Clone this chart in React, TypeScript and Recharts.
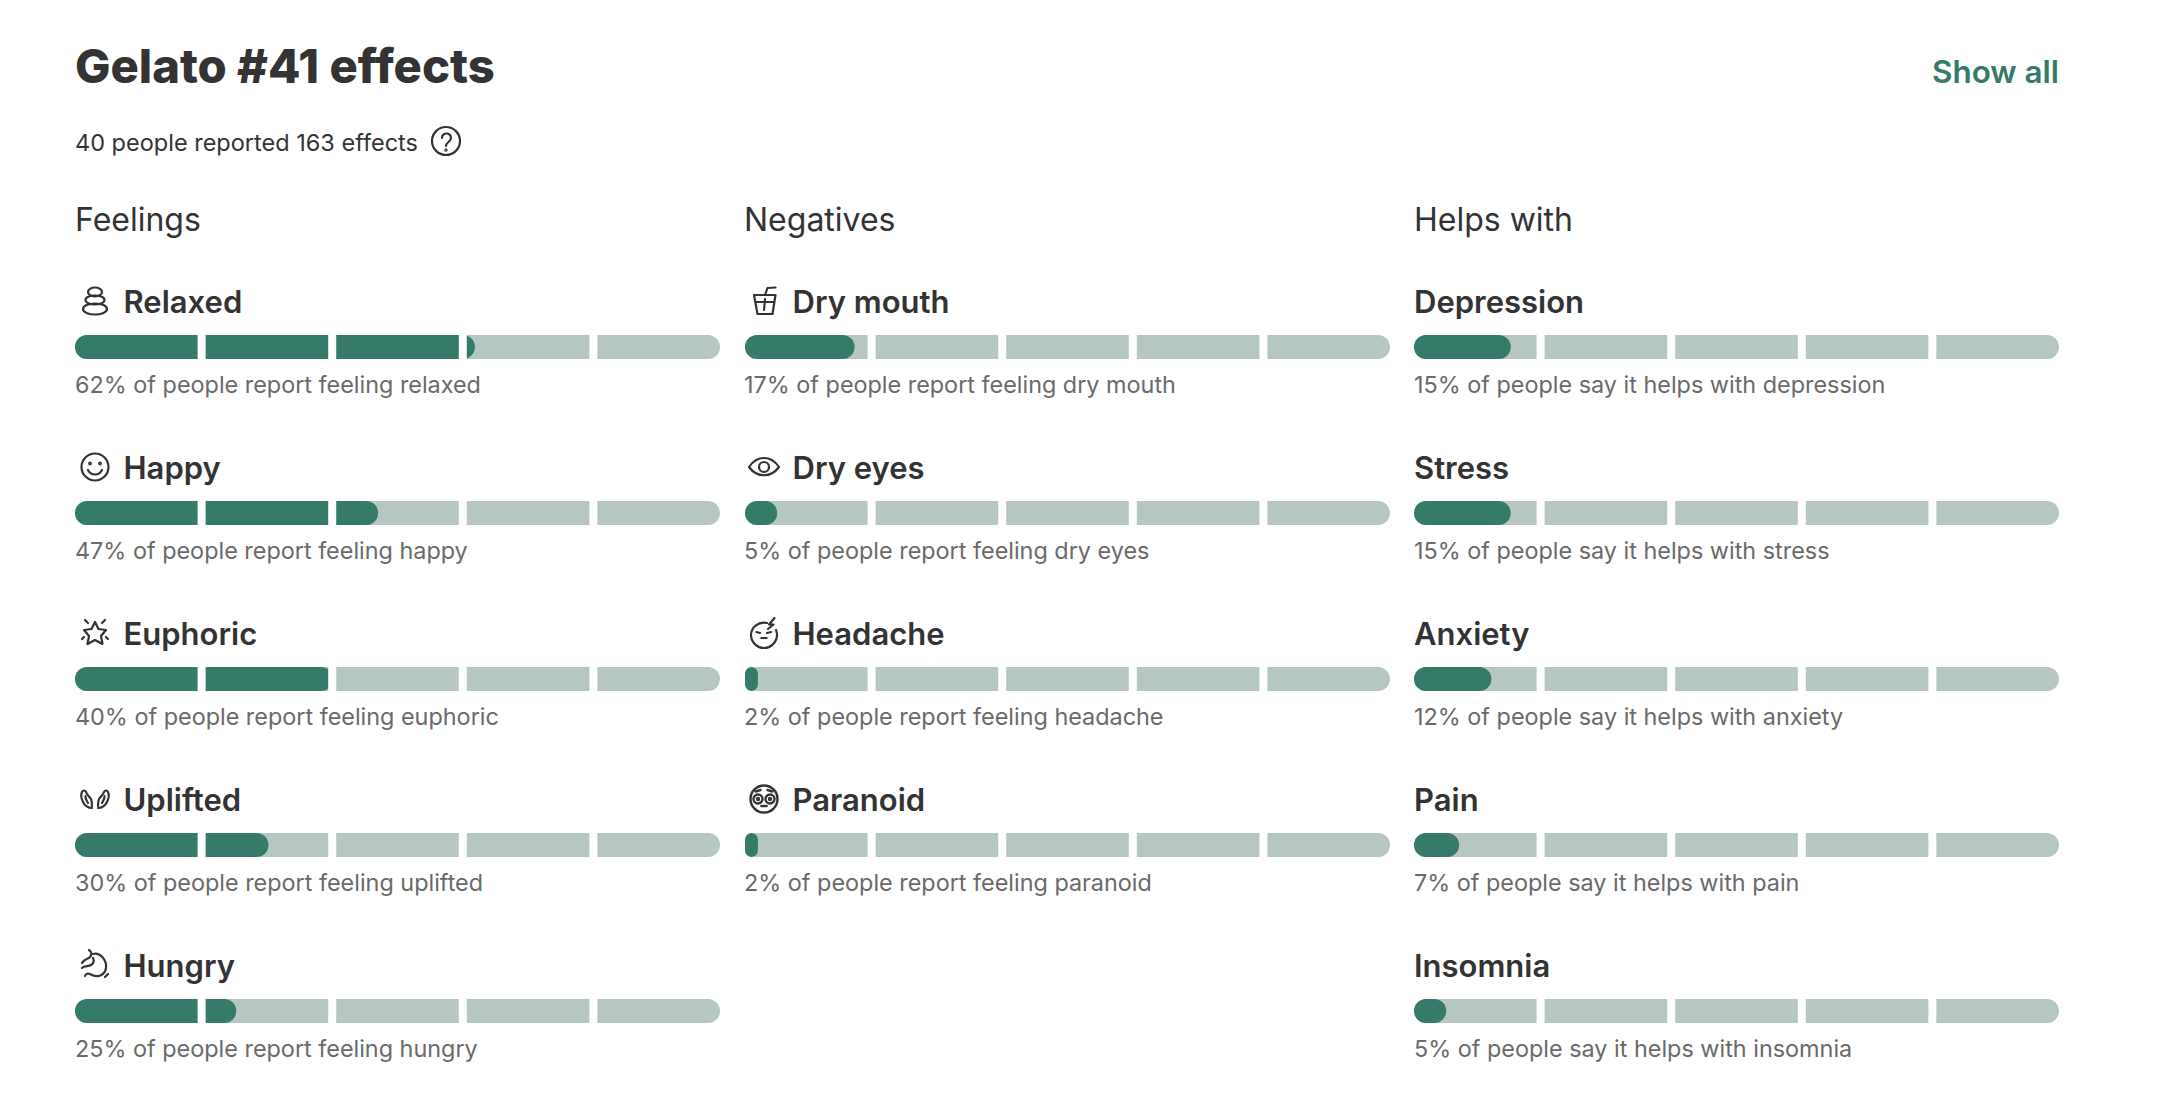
import React from 'react';
import { BarChart, Bar, XAxis, YAxis, ReferenceLine } from 'recharts';

const feelingNames = ['Relaxed', 'Happy', 'Euphoric', 'Uplifted', 'Hungry'];
const feelingValues = [62, 47, 40, 30, 25];
const negativeNames = ['Dry mouth', 'Dry eyes', 'Headache', 'Paranoid'];
const negativeValues = [17, 5, 2, 2];
const helpNames = ['Depression', 'Stress', 'Anxiety', 'Pain', 'Insomnia'];
const helpValues = [15, 15, 12, 7, 5];
const segmentGaps = [19.63, 39.88, 60.12, 80.37];

const DARK = '#333333';
const GREEN = '#367a69';
const TRACK = '#b6c7c2';
const MUTED = '#6a6a6a';
const FONT = 'Inter, sans-serif';

const ROW = 166;
const CHART_TOP = 264;

const toRows = (names: string[], values: number[]) =>
  names.map((name, i) => ({ name, pct: values[i] }));

const icon = { fill: 'none', stroke: DARK, strokeWidth: 2.2, strokeLinecap: 'round', strokeLinejoin: 'round' } as const;

const Relaxed = () => (
  <g {...icon}>
    <ellipse cx={0} cy={-9} rx={7} ry={4.5} />
    <ellipse cx={0} cy={-1} rx={9.5} ry={4.5} />
    <ellipse cx={0} cy={8} rx={12} ry={5.5} />
  </g>
);
const Happy = () => (
  <g {...icon}>
    <circle r={13.5} />
    <circle cx={-5} cy={-3.5} r={0.8} />
    <circle cx={5} cy={-3.5} r={0.8} />
    <path d="M-7 3 C-4 9 4 9 7 3" />
  </g>
);
const Euphoric = () => (
  <g {...icon}>
    <path d="M0 -11 L3.5 -4 L11 -3 L6 3 L7.5 11 L0 7 L-7.5 11 L-6 3 L-11 -3 L-3.5 -4 Z" />
    <path d="M-10 -13 L-7 -10 M10 -13 L7 -10 M-13 6 L-11 4 M13 6 L11 4" />
  </g>
);
const Uplifted = () => (
  <g {...icon}>
    <path d="M-3 9 C-7 9 -10 7 -12 3 C-14 -1 -14 -5 -13 -7 C-12 -9 -10 -9 -9 -7 C-8 -4 -6 -3 -4 0 C-3 2 -3 5 -3 7" />
    <path d="M-9.5 -3 C-10 0 -8 2 -7 4" />
    <path d="M3 9 C7 9 10 7 12 3 C14 -1 14 -5 13 -7 C12 -9 10 -9 9 -7 C8 -4 6 -3 4 0 C3 2 3 5 3 7" />
    <path d="M9.5 -3 C10 0 8 2 7 4" />
  </g>
);
const Hungry = () => (
  <g {...icon}>
    <path d="M-2 -11 C5 -13 12 -5 11 3 C10 10 3 13 -3 10 C-6 8 -9 8 -10 11" />
    <path d="M-6 -15 C-3 -13 -3 -10 -5 -8 C-7 -6 -11 -6 -13 -2 M-13 3 C-10 0 -7 2 -4 0 C-1 -2 -1 -5 -2 -7 M10 12 L13 9" />
  </g>
);
const DryMouth = () => (
  <g {...icon}>
    <path d="M-10 -6 L11.5 -6 L8.5 13 L-6.5 13 Z" />
    <path d="M-8.5 1 L10 1 M1 -2 L0 9" />
    <path d="M1 -6 L3.5 -13 L11.5 -13.5" />
  </g>
);
const DryEyes = () => (
  <g {...icon}>
    <path d="M-15 0 C-7 -12 7 -12 15 0 C7 11 -7 11 -15 0 Z" />
    <circle r={5} />
  </g>
);
const Headache = () => (
  <g {...icon}>
    <path d="M3 -10 C-6 -12 -13 -5 -13 2 C-13 9 -7 15 0 15 C7 15 13 9 13 2 C13 0 12.5 -2 12 -3" />
    <path d="M-7.5 -1 L-4 0 M3 0 L7 -1 M-2.7 5 L2.7 5" />
    <path d="M10.5 -15 L5 -8.5 L9.5 -8.5 L4 -4" />
  </g>
);
const Paranoid = () => (
  <g {...icon} strokeWidth={2.4}>
    <circle r={13.5} />
    <circle cx={-6} cy={0} r={4.5} />
    <circle cx={6} cy={0} r={4.5} />
    <circle cx={-6} cy={0} r={1} />
    <circle cx={6} cy={0} r={1} />
    <path d="M-2.7 7 L2.7 7 M-8.3 -7.5 L-3.5 -9 M3.5 -9 L8.3 -7.5" />
  </g>
);

const feelingIcons = [Relaxed, Happy, Euphoric, Uplifted, Hungry];
const negativeIcons = [DryMouth, DryEyes, Headache, Paranoid];

const ColumnChart = ({ rows, left }: { rows: { name: string; pct: number }[]; left: number }) => (
  <div style={{ position: 'absolute', left, top: CHART_TOP }}>
    <BarChart
      width={645}
      height={rows.length * ROW}
      data={rows}
      layout="vertical"
      margin={{ top: 0, right: 0, bottom: 0, left: 0 }}
    >
      <XAxis type="number" domain={[0, 100]} hide />
      <YAxis type="category" dataKey="name" hide />
      <Bar
        dataKey="pct"
        barSize={24}
        fill={GREEN}
        radius={12}
        background={{ fill: TRACK, radius: 12 }}
        isAnimationActive={false}
      />
      {segmentGaps.map((g) => (
        <ReferenceLine key={g} x={g} stroke="#ffffff" strokeWidth={8} />
      ))}
    </BarChart>
  </div>
);

const Labels = ({
  names,
  values,
  left,
  heading,
  phrase,
  icons,
}: {
  names: string[];
  values: number[];
  left: number;
  heading: string;
  phrase: string;
  icons?: React.FC[];
}) => (
  <g>
    <text x={left} y={231} fontSize={32} fontWeight={400} fill={DARK}>
      {heading}
    </text>
    {names.map((name, i) => {
      const Icon = icons && icons[i];
      return (
        <g key={name}>
          {Icon && (
            <g transform={`translate(${left + 20} ${301 + i * ROW})`}>
              <Icon />
            </g>
          )}
          <text x={left + (Icon ? 48.5 : 0)} y={313 + i * ROW} fontSize={31} fontWeight={600} fill={DARK}>
            {name}
          </text>
          <text x={left} y={393 + i * ROW} fontSize={23.4} fill={MUTED}>
            {`${values[i]}% of people ${phrase} ${name.toLowerCase()}`}
          </text>
        </g>
      );
    })}
  </g>
);

export default function App() {
  return (
    <div style={{ position: 'absolute', left: 0, top: 0, width: 2161, height: 1115, background: '#fff', overflow: 'hidden' }}>
      <ColumnChart rows={toRows(feelingNames, feelingValues)} left={75} />
      <ColumnChart rows={toRows(negativeNames, negativeValues)} left={744.5} />
      <ColumnChart rows={toRows(helpNames, helpValues)} left={1414} />
      <svg width={2161} height={1115} style={{ position: 'absolute', left: 0, top: 0, fontFamily: FONT, pointerEvents: 'none' }}>
        <text x={75} y={83} fontSize={47.2} fontWeight={800} fill={DARK}>
          Gelato #41 effects
        </text>
        <text x={2059} y={83} fontSize={31.4} fontWeight={600} fill={GREEN} textAnchor="end">
          Show all
        </text>
        <text x={75} y={151} fontSize={23.5} fill={DARK}>
          40 people reported 163 effects
        </text>
        <g transform="translate(446 141)" {...icon}>
          <circle r={14} />
          <path d="M-4 -3 C-4 -9 5 -9 5 -3 C5 1 0 1 0 5" />
          <circle cy={9} r={0.6} />
        </g>
        <Labels names={feelingNames} values={feelingValues} left={75} heading="Feelings" phrase="report feeling" icons={feelingIcons} />
        <Labels names={negativeNames} values={negativeValues} left={744} heading="Negatives" phrase="report feeling" icons={negativeIcons} />
        <Labels names={helpNames} values={helpValues} left={1414} heading="Helps with" phrase="say it helps with" />
      </svg>
    </div>
  );
}
